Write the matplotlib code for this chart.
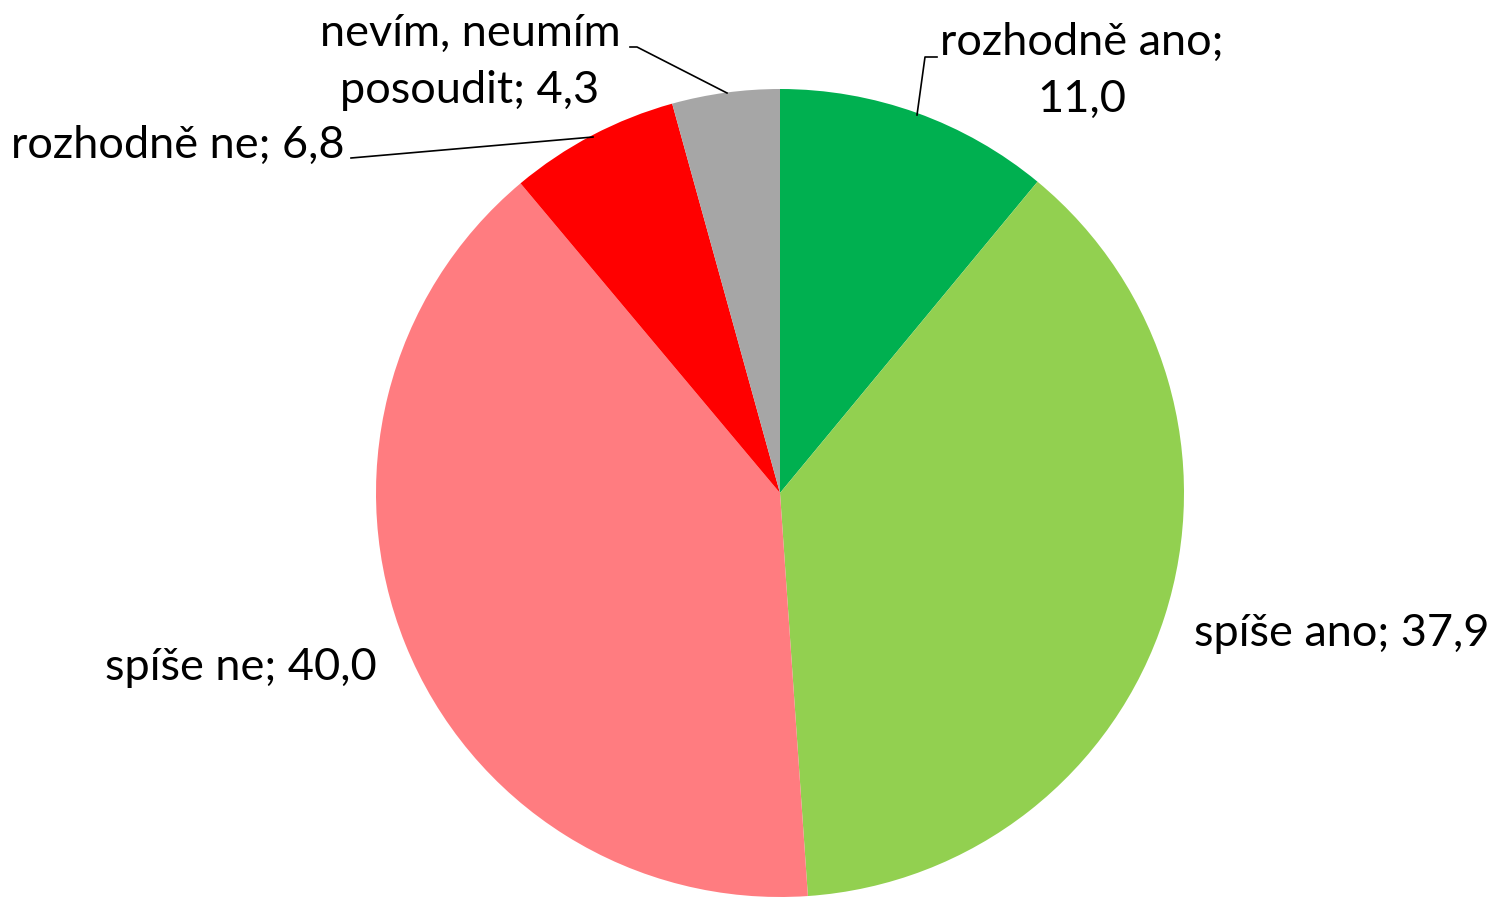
import matplotlib
matplotlib.use("Agg")
import matplotlib.pyplot as plt

categories = ["rozhodně ano", "spíše ano", "spíše ne", "rozhodně ne", "nevím, neumím posoudit"]
values = [11.0, 37.9, 40.0, 6.8, 4.3]
colors = ["#00B050", "#92D050", "#FF7C80", "#FF0000", "#A6A6A6"]

W, H = 1494, 897
fig = plt.figure(figsize=(W / 100, H / 100), dpi=100)
ax = fig.add_axes([0, 0, 1, 1])

cx, cy, r = 780, H - 493, 404
ax.pie(values, colors=colors, startangle=90, counterclock=False,
       center=(cx, cy), radius=r, wedgeprops=dict(linewidth=0),
       frame=True)
ax.set_xlim(0, W)
ax.set_ylim(0, H)
ax.set_aspect("equal")
ax.axis("off")

def fmt(v):
    return f"{v:.1f}".replace(".", ",")

font = dict(family=["Lato", "DejaVu Sans"], fontsize=32.5, color="black")

def P(y):
    return H - y

ax.text(1082, P(71), f"{categories[0]};\n{fmt(values[0])}", ha="center", va="center",
        linespacing=1.47, **font)
ax.text(1342, P(633), f"{categories[1]}; {fmt(values[1])}", ha="center", va="center", **font)
ax.text(241, P(667), f"{categories[2]}; {fmt(values[2])}", ha="center", va="center", **font)
ax.text(178, P(145), f"{categories[3]}; {fmt(values[3])}", ha="center", va="center", **font)
ax.text(470, P(62), "nevím, neumím\nposoudit; " + fmt(values[4]), ha="center", va="center",
        linespacing=1.47, **font)

lk = dict(color="black", linewidth=1.2)
ax.plot([937, 925, 917], [P(57), P(57), P(115)], **lk)
ax.plot([630, 637, 727], [P(47), P(47), P(93)], **lk)
ax.plot([351, 593], [P(158), P(137)], **lk)

fig.savefig("out.png", dpi=100)
